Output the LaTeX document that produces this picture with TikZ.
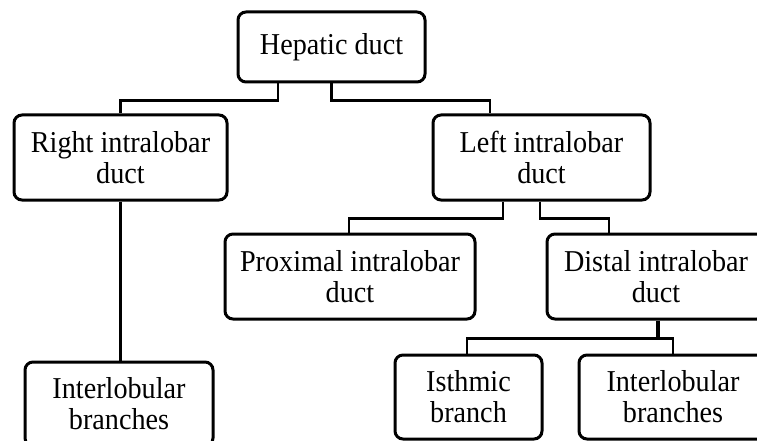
\documentclass[tikz,border=0pt]{standalone}
\usepackage{fontspec}
\setmainfont{Liberation Serif}[FakeStretch=0.93]
\tikzset{
  box/.style={draw, line width=3pt, rounded corners=8pt, inner sep=0pt, align=center,
    font=\fontsize{30.3pt}{31pt}\selectfont},
  conn/.style={draw, line width=2.2pt},
  thickconn/.style={draw, line width=3.6pt}
}
\begin{document}
\begin{tikzpicture}[x=1pt,y=-1pt]
\useasboundingbox (0,0) rectangle (757,441);
\clip (0,0) rectangle (757,441);
\node[box, minimum width=187pt, minimum height=70pt] (hep) at (331.5,47) {Hepatic duct};
\node[box, minimum width=213pt, minimum height=85pt] (rid) at (120.5,157.5) {Right intralobar\\duct};
\node[box, minimum width=217pt, minimum height=85pt] (lid) at (541.5,157.5) {Left intralobar\\duct};
\node[box, minimum width=250pt, minimum height=85pt] (prox) at (350,276.5) {Proximal intralobar\\duct};
\node[box, minimum width=218pt, minimum height=85pt] (dist) at (656,276.5) {Distal intralobar\\duct};
\node[box, minimum width=188pt, minimum height=84pt] (interl) at (119,404) {Interlobular\\branches};
\node[box, minimum width=147pt, minimum height=84pt] (isth) at (468.5,397) {Isthmic\\branch};
\node[box, minimum width=188pt, minimum height=84pt] (interr) at (673,397) {Interlobular\\branches};
% connectors
\draw[conn] ([xshift=-53.5pt]hep.south) -- ++(0,17) -| (rid.north);
\draw[conn] (hep.south) -- ++(0,17) -| ([xshift=-51.5pt]lid.north);
\draw[conn] (rid.south) -- (rid.south |- interl.north);
\draw[conn] ([xshift=-38.5pt]lid.south) -- ++(0,17) -| ([xshift=-1pt]prox.north);
\draw[conn] ([xshift=-1.5pt]lid.south) -- ++(0,17) -| ([xshift=-47pt]dist.north);
\draw[thickconn] ([xshift=2pt]dist.south) -- ++(0,18);
\draw[conn] ([xshift=2pt,yshift=-18pt]dist.south) -| ([xshift=-1.5pt]isth.north);
\draw[conn] ([xshift=2pt,yshift=-18pt]dist.south) -| (interr.north);
\end{tikzpicture}
\end{document}
